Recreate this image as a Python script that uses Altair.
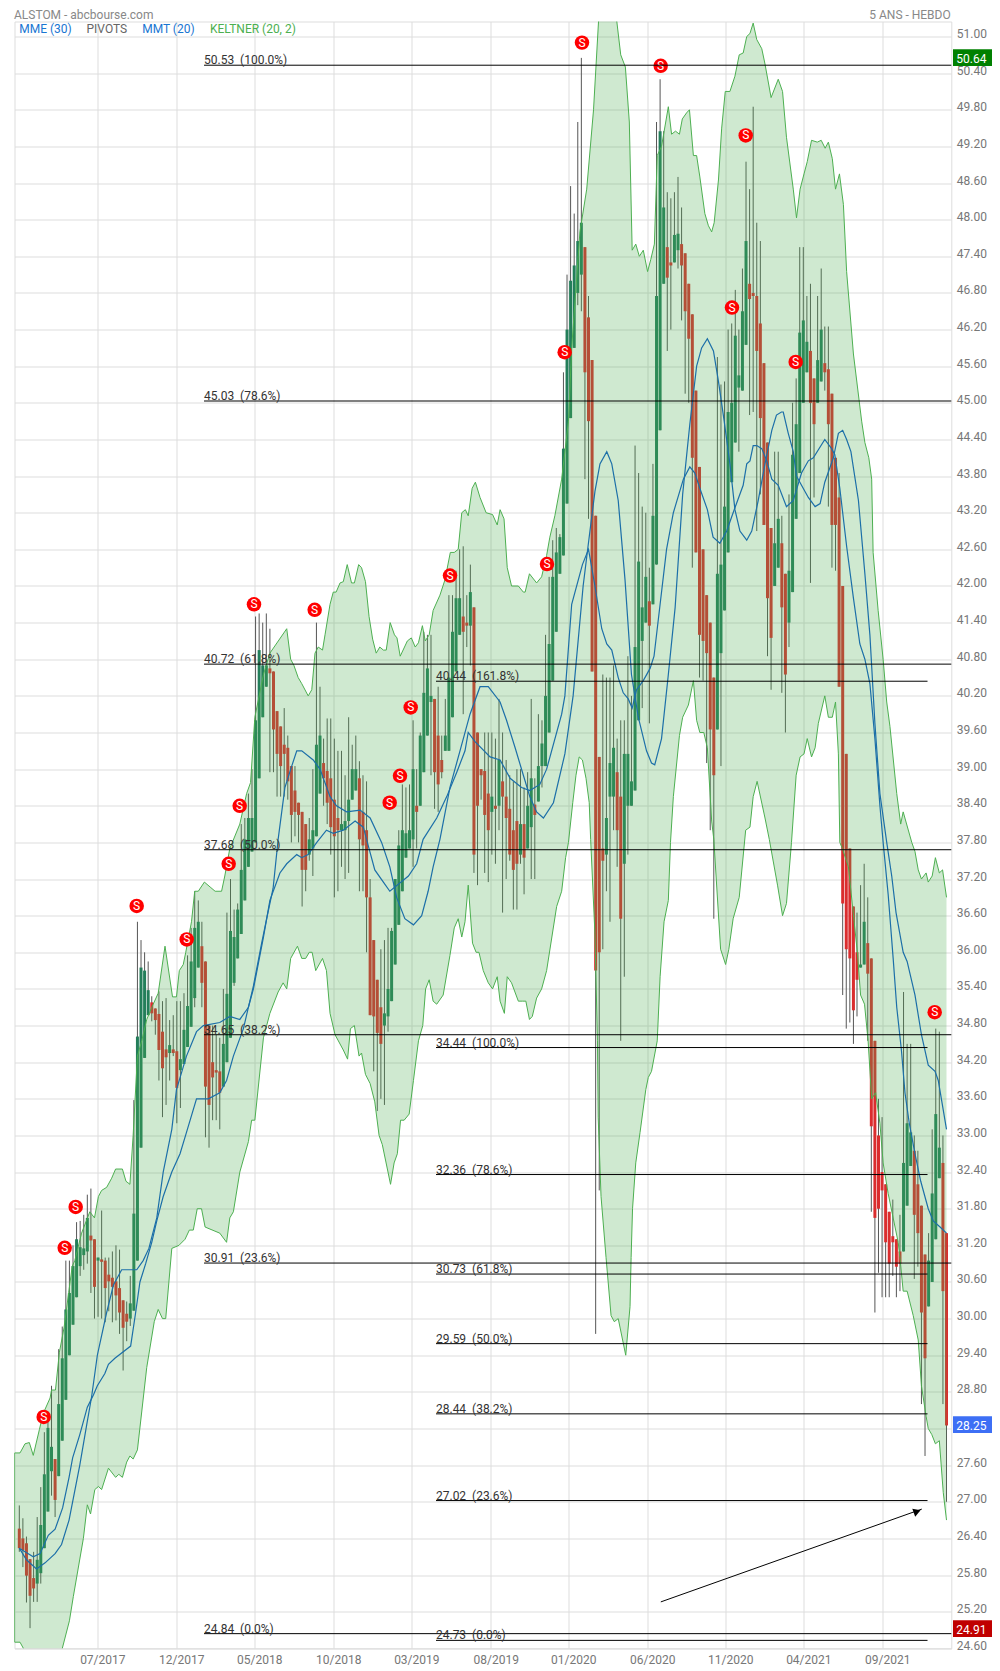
import altair as alt
import pandas as pd

opens = [26.56,26.40,26.32,26.06,25.75,25.66,25.83,26.24,26.84,27.5,
27.7,27.42,28.0,28.67,29.4,29.9,30.35,30.86,31.04,31.1,
31.36,31.3,30.95,30.97,30.95,30.72,30.67,30.61,30.5,30.3,
30.08,30.0,30.13,30.95,32.8,34.27,34.97,35.18,35.08,34.99,
34.7,34.41,34.35,34.41,34.38,34.07,34.17,34.45,34.78,35.25,
35.75,36.1,35.85,34.8,34.2,34.07,34.05,33.8,34.2,34.6,
35.5,35.9,36.3,36.85,37.4,37.65,37.8,38.85,39.85,40.35,
40.65,40.6,39.95,39.7,39.4,39.35,39.05,38.65,38.45,38.3,
38.1,37.6,37.7,37.9,38.6,39.1,38.97,38.85,38.5,38.2,
38.0,38.0,38.15,38.5,38.65,38.85,38.3,38.0,36.9,36.2,
35.55,35.1,34.8,34.95,35.2,35.8,36.45,37.0,37.55,37.7,
37.85,38.4,38.4,38.95,39.55,40.1,40.15,39.55,39.15,39.3,
39.3,39.85,40.6,41.2,41.5,41.4,41.35,41.65,39.6,39.0,
38.97,38.6,38.3,38.4,38.4,38.8,38.55,38.35,38.0,38.15,
37.6,38.1,37.7,38.05,38.42,38.47,39.05,39.05,39.6,40.45,
41.25,42.2,42.5,43.35,44.75,45.9,46.8,47.1,47.55,46.4,
45.7,43.15,39.2,37.7,37.6,38.55,38.55,38.95,38.55,37.45,
38.4,38.4,38.65,39.8,41.1,41.4,41.75,41.7,42.35,44.55,
46.95,47.55,47.3,47.3,47.5,47.6,47.45,46.95,46.45,45.2,
43.95,42.6,41.85,41.4,40.5,39.65,40.9,41.6,42.55,43.7,
44.35,45.25,45.2,45.95,46.95,46.8,46.75,46.3,45.65,44.35,
42.95,42.0,42.3,42.7,42.2,41.4,41.9,43.1,43.85,45.0,
45.5,45.85,45.4,45.0,45.35,45.65,45.55,45.15,44.1,43.45,
42.0,39.25,37.7,36.75,36.0,35.75,35.8,36.15,35.9,34.55,
33.0,32.4,32.2,31.75,31.35,31.3,31.1,31.1,31.85,32.5,
32.75,32.2,31.85,31.05,30.2,30.6,31.3,32.3,32.55,31.4]

highs = [26.94,26.73,26.43,26.06,26.18,26.75,27.24,28.14,28.4,28.9,
27.7,29.5,29.87,30.95,30.95,31.2,31.58,31.6,31.7,32.03,
32.13,31.3,31.0,31.77,31.0,31.0,31.1,31.2,31.13,30.3,
30.28,30.7,33.58,36.5,36.2,36.0,35.85,35.28,35.08,35.36,
35.2,35.25,34.89,34.97,35.2,35.2,35.33,35.95,36.4,37.0,
36.85,36.5,35.85,34.8,34.8,34.65,34.6,35.4,36.65,37.2,
36.7,36.8,38.1,38.2,38.6,39.0,41.5,41.55,41.4,41.55,
41.3,40.6,39.95,39.7,40.0,39.55,39.05,39.05,38.45,38.3,
38.1,38.2,39.0,41.4,40.35,39.5,39.83,39.83,39.5,39.3,
39.3,38.9,39.85,39.4,39.55,39.13,38.9,38.8,37.2,36.2,
35.55,36.05,36.2,36.4,36.4,37.2,38.0,38.75,38.7,38.75,
39.8,39.0,39.6,41.25,41.2,41.2,40.15,40.35,39.55,40.15,
41.85,41.85,42.25,42.6,42.65,41.85,42.35,41.65,39.6,39.0,
39.6,39.6,39.6,39.5,40.15,39.6,39.15,38.9,38.8,39.0,
39.0,38.7,38.95,40.15,38.85,39.9,39.8,41.2,42.15,42.75,
42.95,42.85,45.5,47.1,48.55,48.1,49.6,50.65,47.55,46.75,
45.7,43.15,39.2,40.55,40.5,40.5,40.7,39.5,39.8,39.8,
40.85,40.2,44.3,43.85,43.3,43.2,42.3,44.0,49.6,50.3,
49.45,48.45,48.35,48.45,48.7,48.2,47.45,46.95,46.45,45.2,
43.95,42.6,41.85,41.4,40.5,45.75,45.3,45.35,46.2,46.3,
46.85,46.2,47.2,48.95,48.5,49.85,47.95,47.65,45.65,44.35,
42.95,44.2,44.2,43.15,42.2,43.5,45.0,45.4,47.55,47.55,
46.75,46.95,45.4,46.75,47.2,46.25,46.25,45.15,44.1,43.85,
42.0,39.25,37.7,36.75,36.65,37.1,37.45,36.9,35.9,34.55,
33.6,33.3,32.2,31.75,31.95,31.3,31.7,35.35,34.5,34.5,
33.0,32.75,31.85,31.05,31.4,33.1,34.75,34.7,33.0,31.4]

lows = [26.18,25.93,25.35,24.93,25.36,25.36,25.66,26.24,26.84,27.1,
26.75,27.42,28.0,28.67,29.4,29.9,30.35,30.7,30.8,30.9,
30.42,30.0,30.03,30.0,29.94,30.12,29.94,29.97,29.75,29.15,
29.63,29.88,30.13,30.95,32.8,34.27,34.97,34.87,34.65,33.9,
33.3,33.5,33.9,34.3,33.2,33.45,34.17,34.45,34.78,35.1,
35.75,35.1,32.97,32.8,33.25,33.25,33.1,33.8,34.2,34.6,
35.45,35.9,36.3,36.85,37.4,37.65,37.8,38.85,39.85,40.35,
38.95,38.95,38.55,38.55,38.55,38.5,37.8,37.9,37.8,36.75,
37.0,37.5,37.25,37.9,38.6,38.4,38.1,37.6,36.9,37.0,
37.4,37.2,37.3,38.5,38.65,37.0,37.0,36.0,34.97,34.05,
33.4,33.6,33.5,34.7,35.2,35.8,36.45,37.0,37.55,37.7,
37.4,37.7,38.4,38.95,39.55,38.9,38.35,38.3,38.85,39.3,
39.3,39.85,40.6,41.2,39.9,41.0,40.7,37.3,37.1,38.5,
37.3,37.15,37.6,37.45,38.0,36.65,37.2,37.5,36.7,36.7,
37.45,36.95,37.7,37.2,37.2,38.47,38.7,39.05,39.6,40.45,
41.25,42.2,42.5,43.35,44.75,45.9,46.6,46.5,43.75,43.1,
40.6,29.75,32.1,36.05,37.0,36.5,38.0,37.4,34.55,35.6,
37.6,38.4,38.65,39.8,40.0,41.4,39.75,41.7,42.35,44.55,
46.95,45.85,46.2,47.3,47.2,46.35,45.15,45.0,42.3,42.55,
40.5,40.45,39.1,38.0,36.55,39.65,39.05,41.6,42.55,43.7,
44.35,44.2,45.2,45.95,44.8,44.85,42.9,43.5,43.0,40.85,
40.3,42.0,42.3,40.25,39.6,41.0,41.9,43.1,43.85,45.0,
45.5,42.05,43.45,45.0,45.35,45.2,43.3,42.3,42.25,40.35,
35.3,34.75,34.85,34.5,34.95,35.75,35.8,34.55,31.75,30.1,
30.75,30.35,30.35,30.35,30.7,30.35,30.45,31.1,31.85,32.5,
30.65,30.85,28.6,27.75,30.2,30.6,31.3,32.3,28.6,27.0]

closes = [26.24,26.21,25.79,25.46,25.58,26.05,26.62,27.45,28.21,27.9,
27.03,28.6,29.35,30.15,30.42,30.86,31.3,31.17,31.15,31.65,
31.28,30.52,31.0,30.93,30.5,30.61,30.52,30.38,30.1,29.85,
29.95,30.25,31.72,34.62,35.75,35.7,35.38,35.0,34.89,34.4,
34.1,34.28,34.48,34.35,33.78,34.25,34.73,35.12,35.85,36.4,
36.5,35.5,33.8,33.5,33.95,34.03,33.7,34.5,35.32,36.35,
36.25,36.7,37.35,37.85,38.2,38.2,39.8,40.95,40.7,40.7,
40.57,39.65,39.25,39.05,39.25,38.8,38.25,38.3,38.25,37.35,
37.35,37.85,38.0,39.4,39.55,38.85,38.45,38.05,37.9,38.0,
38.1,38.15,38.5,39.0,39.0,37.85,37.75,36.9,34.97,34.95,
34.68,34.5,35.0,35.4,36.35,37.2,37.75,38.0,37.95,38.0,
39.0,38.3,39.55,40.25,40.65,40.2,38.95,38.75,38.95,39.55,
40.5,41.25,41.8,41.8,41.25,41.35,41.9,37.6,38.4,38.9,
38.25,38.0,38.55,38.35,39.15,38.55,38.2,37.6,37.35,37.45,
38.1,37.55,38.4,38.85,38.25,39.05,39.42,40.2,41.05,42.15,
42.55,42.8,44.25,46.2,47.0,47.25,47.65,47.95,45.5,44.7,
40.6,35.7,36.0,37.5,38.2,39.1,39.35,38.0,36.55,39.25,
39.25,38.8,41.0,42.4,41.65,42.15,41.35,43.15,46.75,49.45,
48.2,47.05,47.25,47.75,47.77,47.25,46.5,46.05,44.1,42.55,
41.2,41.1,40.9,39.65,38.9,42.2,42.35,43.3,44.85,45.0,
46.1,45.45,46.5,47.65,46.7,46.75,45.85,44.75,43.0,41.8,
41.15,42.7,43.1,41.65,40.55,42.25,44.15,44.65,46.15,46.35,
46.0,45.0,44.65,45.7,46.2,45.5,44.65,43.0,43.0,40.35,
36.8,36.05,35.9,35.05,35.55,35.8,36.5,35.65,33.15,31.65,
31.8,32.1,31.25,30.9,31.25,30.85,30.9,32.55,33.2,33.05,
31.7,31.4,30.1,29.35,30.95,32.05,33.35,32.8,30.45,28.25]

upper_w = [-1.34,0.2,1.6,2.8,3.9,5.6,6.7,8.6,9.0,10.1,11.2,12.5,13.8,14.8,15.5,17.4,19.7,21,22.1,23,24.4,25.8,26.9,28.8,29.8,30.9,31.8,33,34.2,35.6,37.4,38.8,40.7,42.8,43.9,44.7,45.8,46.5,48.1,49,50,51.7,53.3,54.7,56.5,57.4,58.8,61.6,63.5,64.6,65.8,68.2,70,74.7,75.8,76.7,77.9,78.9,80.7,81.7,82.6,83.5,84.7,85.4,86.8,87.7,88.5,89.6,90.5,91.6,92.8,93.6,94.8,95.6,96.7,97.7,98.7,99.7,100.7,101.7,102.5,103.6,104.8,105.5,106.4,108.4,109.5,110.6,111.5,112.6,113.4,114.5,115.6,117.5,118.9,120.4,121.5,122.6,123.6,124.6,125.4,126.5,127.4,128.7,130.4,132.2,133.5,134.3,135.4,136.3,137.5,139.4,140.8,141.3,142.5,144.5,145.9,147.3,148.2,149.6,151.5,153.4,154.3,156.6,158.5,160.4,161.8,163.6,165.5,166.9,168,169.3,170.4,171.2,172.2,173.2,174.3,175.5,176.4,177.4,178.2,179.4,181.3,182.2,183.3,184.4,185.2,186.4,187.2,188.3,189.2,190.1,191.5,192.5,193.4,194.1,195.3,196.2,197.2,198.5,199.9,201.1,202.2,203.2,204.1,205,206,207.4,208.3,210,212,213.2,214.3,216.2,217.1,218.1,219.2,220.1,221.3,222.9,224,225.1,226,227.1,228,229.1,230.2,231.1,233,235.3,236.2,237.3,238.1,238.5,239.9,241.3,242.3,243.2,245.1,246.2,246.9,249.3,250.2,251.1,252,253.3,253.9,255,255.9,257,257.9,259]
upper_v = [27.8,27.8,27.95,27.97,27.76,28.18,28.45,28.7,28.83,28.83,29.45,29.85,30.43,30.86,30.95,31.4,31.75,31.65,32.0,32.1,32.15,32.3,32.45,32.45,32.25,32.2,33.0,34.3,34.55,34.9,35.15,35.33,36.1,35.27,35.27,35.7,35.8,36.0,36.5,37.0,37.0,37.15,37.07,37.0,37.0,37.25,37.7,38.1,38.6,38.78,39.85,40.55,40.9,41.3,40.8,40.7,40.5,40.4,40.2,40.3,40.9,41.0,40.95,41.2,41.7,41.9,41.9,42.05,42.07,42.35,42.05,42.05,42.35,42.3,42.07,41.5,41.13,40.9,41.0,40.95,40.95,41.4,41.2,41.15,40.85,41.1,41.15,41.0,41.07,41.35,41.1,41.2,41.6,41.85,42.1,42.55,42.55,42.6,43.2,43.25,43.15,43.6,43.7,43.45,43.2,43.17,43.0,43.25,43.1,42.3,42.0,42.0,41.9,41.9,42.2,42.05,42.15,42.5,42.8,43.15,43.75,44.7,45.9,47.8,48.5,49.8,51.25,52.0,52.0,51.25,50.7,50.5,49.6,47.5,47.6,47.4,47.5,47.15,47.35,47.6,49.05,49.2,49.85,49.4,49.45,49.4,49.65,49.75,49.8,49.05,49.05,48.7,48.1,47.9,47.8,47.95,48.65,49.5,50.1,50.1,50.35,50.7,50.73,51.0,51.05,51.22,50.95,50.8,50.55,50.0,50.3,50.1,49.35,48.5,48.03,48.5,48.75,48.95,49.3,49.27,49.3,49.17,49.27,49.0,48.5,48.75,48.25,47.15,45.8,44.7,44.35,44.1,43.75,42.55,41.6,40.8,40.1,39.7,38.6,38.1,38.3,37.8,37.65,37.35,37.2,37.3,37.15,37.25,37.55,37.3,37.35,36.9]

lower_w = [-1.34,0.2,1.6,11.8,14,15.1,17.9,19,19.9,21.1,22.1,23,24.9,26.9,27.8,28.8,30,30.9,31.8,33,35.6,37.7,38.8,40,40.9,42.6,44.6,46.3,47.5,48.6,49.7,50.9,51.9,56,57.9,58.8,59.8,61.6,64,64.9,65.8,68.2,70,72.3,73.7,74.7,75.8,77.7,78.9,80,81,81.8,82.8,84.7,85.8,86.8,88.2,90.5,91.7,92.5,93.6,94.9,95.6,96.7,98,99.3,100.5,101.4,103.7,104.7,105.6,106.5,107.5,108.9,110.1,111.5,112.7,113.5,114.5,115.6,116.6,118.4,120.3,121.5,122.6,123.6,124.5,125.4,126.6,127.6,128.4,129.6,131,132.2,133.5,134.3,135.5,136.3,137.5,139.4,140.6,141.5,142.5,143.3,144.5,145.9,147.3,150.1,151.5,152.6,153.4,154.6,155.5,156.4,157.3,158.3,159.2,159.6,160.8,161.5,161.7,162.5,163.9,165.3,166.2,167.3,169.4,170.6,170.9,171.3,172.2,173.4,175,175.7,176.6,178.2,179,180.1,181.3,181.9,182.7,184.4,185.3,186.9,188.3,189.2,190.1,191.2,192.2,193.4,194,195.9,197.3,198.2,199.4,201.1,202.9,204.1,205,206.1,208.3,209.5,211.8,213.2,214.3,215.7,217,218.1,219.2,220.1,221.3,222.3,223.2,225,226,227.1,228,228.8,229.2,229.9,231.6,233.2,234.1,235,236.1,237.1,238.1,239.2,240.4,241.3,242.7,245.5,246,246.9,248,249.7,251.1,252,253.3,253.9,254.9,255.9,257,258.1,259]
lower_v = [24.7,24.7,24.55,24.55,25.05,25.45,26.4,26.95,26.8,27.2,27.25,27.2,27.55,27.4,27.45,27.4,27.65,27.75,27.7,27.85,29.2,29.95,30.15,30.0,30.0,31.15,31.2,31.3,31.45,31.45,31.8,31.8,31.5,31.4,31.25,31.65,31.75,32.4,32.9,33.25,33.25,34.6,35.0,35.35,35.5,35.4,35.9,36.1,35.9,35.9,36.0,36.0,35.7,35.9,35.7,35.0,34.65,34.4,34.25,34.75,34.8,34.3,34.35,34.0,33.85,33.55,33.0,32.85,32.2,32.55,32.7,33.25,33.25,33.35,33.9,34.55,34.8,35.4,35.55,35.2,35.15,35.3,35.95,36.4,36.55,36.25,36.5,37.1,36.15,36.0,36.0,35.7,35.5,35.4,35.6,35.2,35.0,35.6,35.5,35.2,35.2,35.2,34.9,34.95,35.25,35.4,35.7,36.75,37.0,37.55,37.8,38.45,38.9,39.2,39.15,38.85,38.45,37.85,36.3,34.55,33.3,32.0,31.0,30.05,29.95,30.0,29.4,30.2,31.0,31.8,32.55,33.05,33.75,33.95,34.05,34.55,35.6,36.5,36.85,37.8,38.55,39.55,39.85,40.05,40.45,39.8,39.6,39.6,39.35,38.15,37.85,36.05,35.8,36.05,36.55,36.9,38.0,38.05,38.55,38.8,38.2,37.85,37.1,36.6,36.8,37.8,38.9,39.2,39.25,39.5,39.2,39.35,39.75,40.2,39.85,39.85,40.1,39.25,37.8,37.7,37.4,36.5,36.0,35.3,35.15,34.55,33.6,33.7,33.2,32.55,32.05,31.25,31.0,30.45,30.45,30.05,29.65,28.9,28.4,28.2,28.1,27.95,28.0,27.15,26.7]

ma1_w = [0,2,4.8,7.2,10,11.8,13.9,16.9,18.8,20.2,21.8,24.4,26.3,28.6,32.8,34.6,36.2,38.4,40.2,42.6,43.9,46.7,49.5,51.4,56,58.8,61.6,64,65.4,68.2,70,72.8,74.7,77.5,78.9,80.7,83.1,85.8,87.7,90.5,93.8,96.1,97,99.3,101.7,103.5,108.7,111,112.8,116.6,119.4,122.2,124.5,125.4,127.3,131.5,134.3,137.1,140.3,142.6,145.4,147.3,151.5,152.4,154.3,157.3,159,160.8,162.7,164.1,165.5,167.3,168.7,170.1,171.2,172.4,174.3,176.2,177.3,179,180.8,182.7,185.5,187.3,188.7,190.1,192.2,193.8,195.7,197.6,199.4,202.2,203.2,204.1,205,206,207.4,208.8,210.2,212,214.3,216.2,218.5,220.4,221.8,225,226.9,227.8,229.2,231.1,233,234.8,236.2,237.6,239,240.4,241.3,242.7,244.1,245.1,246.4,247.4,248.6,250.2,251.8,253.9,255.3,257.2,259]
ma1_v = [26.24,26.05,25.9,26.0,26.15,26.3,26.7,27.6,28.25,28.72,29.4,30.1,30.55,30.8,30.8,30.95,31.15,31.65,32.4,33.1,33.75,34.3,34.7,34.8,34.85,34.95,34.9,35.1,35.4,36.25,36.85,37.3,37.45,37.6,37.55,37.6,37.8,38.0,37.95,38.0,38.15,38.05,37.85,37.35,37.15,37.0,37.25,37.45,37.85,38.2,38.55,38.95,39.3,39.6,39.45,39.2,39.15,38.85,38.7,38.65,38.75,39.0,39.9,40.2,41.7,42.35,42.6,42.0,41.3,41.05,40.95,40.5,40.25,40.15,40.0,40.3,40.45,40.65,40.85,41.7,42.6,43.2,43.75,43.95,43.85,43.6,43.25,42.8,42.7,42.9,43.2,43.65,44.0,44.05,44.3,44.3,44.25,44.05,43.75,43.65,43.3,43.4,43.85,44.05,44.1,44.4,44.25,44.15,43.6,42.65,41.8,41.05,40.8,40.4,39.5,38.4,37.8,36.95,35.9,35.1,34.4,33.7,33.2,32.7,32.25,31.8,31.6,31.5,31.4]

ma2_w = [0,3.9,5.8,8.1,10,12.1,13.9,14.9,16.9,19,20.7,21.8,23.9,24.9,26.7,31.1,32.5,33.7,35.3,37,38.4,40.2,42.6,44.9,46.7,49.5,50.9,52.8,56,57.9,59.8,62.6,65.4,67.7,69.1,70.9,72.3,74.2,76.1,77.5,78.9,82.1,84,86.8,88.6,91.4,95.2,98,101.2,103.5,105.4,107.7,110.1,112.4,114.2,115.6,117.5,120.3,123.1,125.9,128.7,131,134.3,136.1,138.5,140.8,142.6,144.5,146.4,149.2,152.4,154.7,157.5,159.4,160.8,162.2,164.1,165.5,167.3,169.2,171,172.9,175.2,176.6,177.5,179.4,181.3,183.2,185.3,187.3,189.2,190.6,192.2,193.9,195.3,196.9,198.5,199.9,201.3,203.2,204.6,206.4,208.3,210.2,211.5,212.9,213.4,214.8,216.2,217.1,218.5,220.4,222.3,223.7,225,227.4,228.8,230,231.1,232.3,234.4,236.2,237.6,239,240.4,242.3,243.7,244.9,246.9,248,250.2,252,253.9,255.8,256.7,259]
ma2_v = [26.24,26.1,26.15,26.45,26.55,26.9,27.4,27.72,28.1,28.55,28.75,28.9,29.1,29.25,29.35,29.55,30.1,30.6,30.9,31.25,31.6,32.0,32.4,32.7,33.05,33.6,33.6,33.6,33.7,33.9,34.3,34.75,35.45,36.15,36.55,37.05,37.85,38.7,39.05,39.3,39.3,39.15,39.0,38.55,38.4,38.3,38.33,38.2,37.8,37.4,36.9,36.55,36.45,36.6,37.0,37.4,37.85,38.7,39.3,39.9,40.35,40.35,40.1,39.8,39.35,38.9,38.55,38.3,38.2,38.45,39.25,40.2,42.0,42.9,43.55,44.0,44.2,44.0,43.4,42.1,40.55,39.85,39.3,39.1,39.07,39.5,40.55,41.65,43.5,44.65,45.6,45.9,46.05,45.85,45.35,44.7,44.0,43.25,42.9,42.75,42.9,43.4,44.0,44.55,44.8,44.85,44.85,44.5,44.2,43.8,43.65,43.45,43.3,43.35,43.7,44.1,44.5,44.55,44.4,44.2,43.4,42.2,41.2,39.75,38.6,37.8,37.25,36.65,36.0,35.85,35.3,34.65,34.15,34.05,33.9,33.1]

signal_w = [6.82,12.68,15.75,32.79,46.76,58.49,61.56,65.56,82.51,103.46,106.34,109.33,120.31,147.4,152.35,157.18,179.16,199.08,202.91,216.87,255.7]
signal_v = [28.39,31.16,31.83,36.76,36.21,37.45,38.4,41.7,41.61,38.45,38.89,40.01,42.17,42.36,45.83,50.9,50.52,46.56,49.38,45.67,35.02]

fib_a_v = [50.53,45.03,40.72,37.68,34.65,30.91,24.84]
fib_a_t = ["100.0%","78.6%","61.8%","50.0%","38.2%","23.6%","0.0%"]
fib_b_v = [40.44,34.44,32.36,30.73,29.59,28.44,27.02,24.73]
fib_b_t = ["161.8%","100.0%","78.6%","61.8%","50.0%","38.2%","23.6%","0.0%"]

tick_weeks = [21.79,43.85,65.64,87.71,109.5,131.7,153.35,175.42,197.2,219.0,241.06]
tick_labels = ["07/2017","12/2017","05/2018","10/2018","03/2019","08/2019","01/2020","06/2020","11/2020","04/2021","09/2021"]
price_ticks = [round(24.6 + 0.6 * k, 2) for k in range(45)]

tags_v = [50.64, 28.25, 24.91]
tags_c = ["#008000", "#3d6ff5", "#c00000"]

W, H = 936.8, 1626.8
RIGHT = 40.7
x_dom = [-1.34, 260.34]
y_dom = [24.6, 51.246]
LAB = "#777777"

label_expr = "[" + ",".join(f"'{t}'" for t in tick_labels) + "][indexof([" + ",".join(str(t) for t in tick_weeks) + "],datum.value)]"
x_axis = alt.Axis(values=tick_weeks, labelExpr=label_expr, title=None, grid=True, gridColor="#dddddd", gridWidth=1,
                  domain=False, ticks=False, labelFont="Roboto", labelFontSize=12, labelColor=LAB, labelPadding=6,
                  labelOffset=5, labelOverlap=False, labelFlush=False)
y_axis = alt.Axis(values=price_ticks, orient="right", format=".2f", title=None, grid=True, gridColor="#dddddd", gridWidth=1,
                  domain=False, ticks=False, labelFont="Roboto", labelFontSize=12, labelColor=LAB, labelPadding=5,
                  labelOffset=-3, labelOverlap=False, labelFlush=False, labelBound=False)
x_s = alt.Scale(domain=x_dom, nice=False, zero=False)
y_s = alt.Scale(domain=y_dom, nice=False, zero=False)


def X(f):
    return alt.X(f, type="quantitative", scale=x_s, axis=x_axis)


def Y(f):
    return alt.Y(f, type="quantitative", scale=y_s, axis=y_axis)


candles = pd.DataFrame({"week": range(len(opens)), "open": opens, "high": highs, "low": lows, "close": closes})
candles["dir"] = ["up" if c >= o else "down" for o, c in zip(opens, closes)]

wicks = alt.Chart(candles).mark_rule(color="#555555", strokeWidth=1).encode(x=X("week"), y=Y("low"), y2="high")
bodies = alt.Chart(candles).mark_rule(strokeWidth=3).encode(
    x=X("week"), y=Y("open"), y2="close",
    color=alt.Color("dir:N", scale=alt.Scale(domain=["up", "down"], range=["#237e5a", "#da2d2e"]), legend=None))

poly = pd.DataFrame({"week": upper_w + lower_w[::-1], "value": upper_v + lower_v[::-1]})
poly["seq"] = range(len(poly))
band_fill = alt.Chart(poly).mark_line(clip=True, stroke="transparent", fill="#4caf50", fillOpacity=0.27).encode(
    x=X("week"), y=Y("value"), order="seq:Q")


def line(ws, vs, color, width=1.0):
    d = pd.DataFrame({"week": ws, "value": vs})
    return alt.Chart(d).mark_line(clip=True, color=color, strokeWidth=width).encode(x=X("week"), y=Y("value"))


band_u = line(upper_w, upper_v, "#4caf50")
band_l = line(lower_w, lower_v, "#4caf50")
band_edge = alt.Chart(pd.DataFrame({"week": [upper_w[0]], "a": [upper_v[0]], "b": [lower_v[0]]})).mark_rule(
    color="#4caf50", opacity=0.7).encode(x=X("week"), y=Y("a"), y2="b")
ma1 = line(ma1_w, ma1_v, "#1c6fa8", 1.2)
ma2 = line(ma2_w, ma2_v, "#1c6fa8", 1.2)

sig = pd.DataFrame({"week": signal_w, "value": signal_v, "s": ["S"] * len(signal_w)})
sig_c = alt.Chart(sig).mark_circle(color="#ff0000", size=210, opacity=1).encode(x=X("week"), y=Y("value"))
sig_t = alt.Chart(sig).mark_text(color="white", font="Roboto", fontSize=12, baseline="middle", align="center").encode(
    x=X("week"), y=Y("value"), text="s:N")

fa = pd.DataFrame({"a": [51.6] * len(fib_a_v), "b": [x_dom[1]] * len(fib_a_v), "value": fib_a_v,
                   "label": [f"{v:.2f}\u00a0\u00a0({p})" for v, p in zip(fib_a_v, fib_a_t)]})
fb = pd.DataFrame({"a": [116.4] * len(fib_b_v), "b": [253.7] * len(fib_b_v), "value": fib_b_v,
                   "label": [f"{v:.2f}\u00a0\u00a0({p})" for v, p in zip(fib_b_v, fib_b_t)]})
fib_layers = []
for d in (fa, fb):
    fib_layers.append(alt.Chart(d).mark_rule(color="black", strokeWidth=1).encode(x=X("a"), x2="b", y=Y("value")))
    fib_layers.append(alt.Chart(d).mark_text(align="left", baseline="bottom", dy=2, font="Roboto", fontSize=12, color="#333333").encode(
        x=X("a"), y=Y("value"), text="label:N"))

arrow_line = alt.Chart(pd.DataFrame({"a": [179.2], "b": [252.1], "p": [25.36], "q": [26.88]})).mark_rule(
    color="black", strokeWidth=1).encode(x=X("a"), x2="b", y=Y("p"), y2="q")
arrow_head = alt.Chart(pd.DataFrame({"week": [250.8], "value": [26.84]})).mark_point(
    shape="triangle-up", filled=True, color="black", size=70, angle=70, opacity=1).encode(x=X("week"), y=Y("value"))

tag = pd.DataFrame({"value": tags_v, "color": tags_c, "label": [f"{v:.2f}" for v in tags_v]})
tag["lo"] = tag["value"] - 0.123
tag["hi"] = tag["value"] + 0.15
tag_r = alt.Chart(tag).mark_rect().encode(
    x=alt.value(W + 1.7), x2=alt.value(W + RIGHT), y=Y("lo"), y2="hi",
    color=alt.Color("color:N", scale=None, legend=None))
tag_t = alt.Chart(tag).mark_text(align="left", baseline="middle", dy=1, font="Roboto", fontSize=12, color="white").encode(
    x=alt.value(W + 5), y=Y("value"), text="label:N")


def txt(label, px, py, color, align="left"):
    return alt.Chart(pd.DataFrame({"t": [label]})).mark_text(
        align=align, baseline="middle", font="Roboto", fontSize=12, color=color).encode(
        x=alt.value(px), y=alt.value(py), text="t:N")


heads = [
    txt("ALSTOM - abcbourse.com", -0.5, -6.5, "#888888"),
    txt("5 ANS - HEBDO", 936.2, -6.5, "#888888", "right"),
    txt("MME (30)", 4.8, 7.5, "#1976d2"),
    txt("PIVOTS", 72, 7.5, "#666666"),
    txt("MMT (20)", 127.7, 7.5, "#1976d2"),
    txt("KELTNER (20, 2)", 195.5, 7.5, "#4caf50"),
]

chart = alt.layer(
    wicks, bodies, band_fill, band_u, band_l, band_edge, ma1, ma2,
    sig_c, sig_t, *fib_layers, arrow_line, arrow_head, tag_r, tag_t, *heads
).properties(
    width=W, height=H, autosize="none",
    padding={"left": 6.5, "top": 13.5, "right": RIGHT, "bottom": 20},
    background="white",
).configure_view(stroke="#dddddd")

chart.save("out.html", embed_options={"renderer": "svg", "actions": False})
